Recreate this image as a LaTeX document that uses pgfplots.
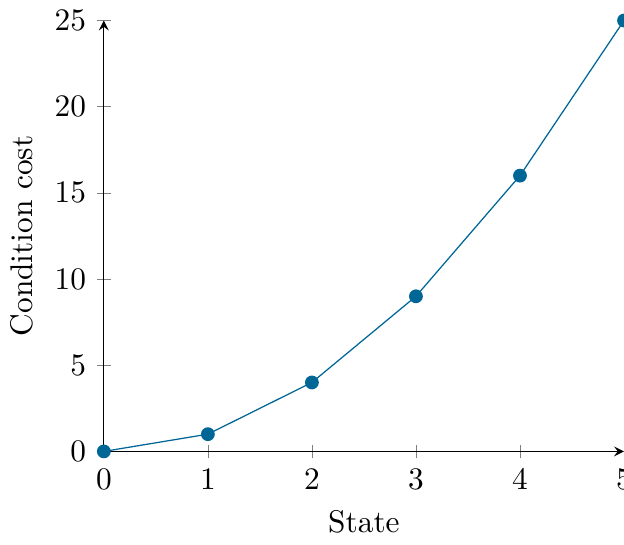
\documentclass[border=0pt]{standalone}
\usepackage{pgfplots}
\pgfplotsset{compat=1.18}
\definecolor{cblue}{RGB}{0,102,150}
\begin{document}
\begin{tikzpicture}[trim axis right]
\begin{axis}[
  scale only axis,
  width=166pt, height=137.5pt,
  axis lines=left,
  tick align=center,
  xmin=0, xmax=5, ymin=0, ymax=25,
  xtick={0,1,2,3,4,5},
  ytick={0,5,10,15,20,25},
  xlabel={State},
  ylabel={Condition cost},
]
\addplot[color=cblue, mark=*, mark options={fill=cblue}] coordinates {
(0,0) (1,1) (2,4) (3,9) (4,16) (5,25)
};
\end{axis}
\end{tikzpicture}
\end{document}
